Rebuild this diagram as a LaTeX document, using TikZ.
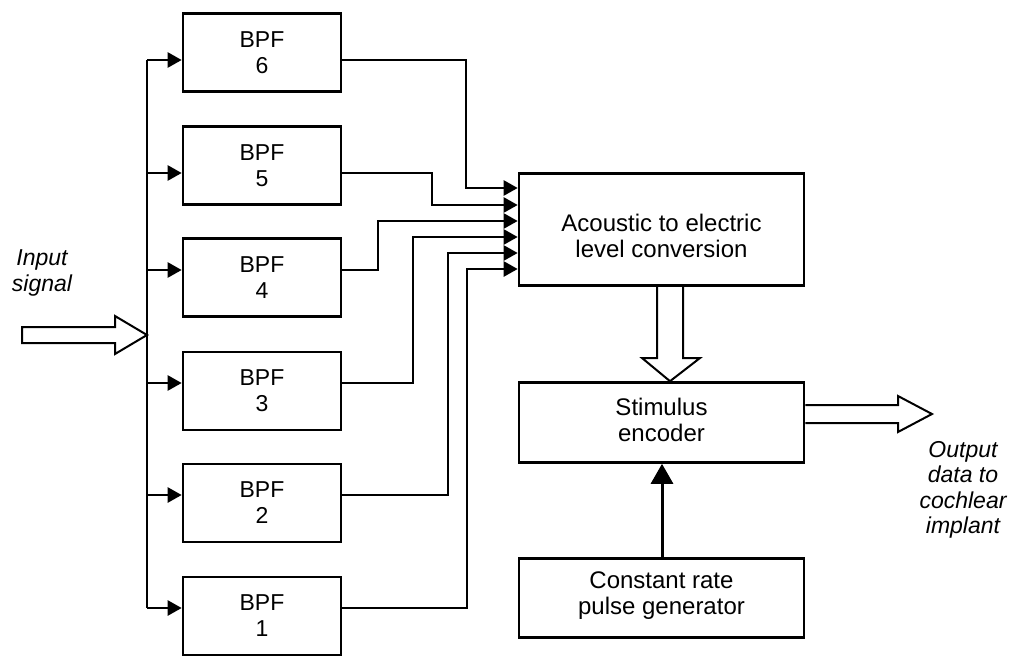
\documentclass[tikz,border=0pt]{standalone}
\usepackage{fontspec}
\setmainfont{Liberation Sans}
\usetikzlibrary{arrows.meta}
\begin{document}
\begin{tikzpicture}[x=1pt,y=-1pt,
  line width=2.4pt, line join=miter,
  box/.style={draw, line width=2.6pt, minimum width=285pt, align=center, inner sep=0pt,
     font=\fontsize{24}{26}\selectfont},
  txt/.style={align=center, inner sep=0pt, font=\fontsize{24}{26}\selectfont},
  bpf/.style={draw, line width=2.6pt, minimum width=158pt, minimum height=78pt, align=center, inner sep=0pt,
     font=\fontsize{23}{26}\selectfont},
  arr/.style={-{Triangle[length=14pt,width=15pt]}},
  big/.style={-{Triangle[length=20pt,width=22pt]}, line width=3pt},
  lbl/.style={align=center, font=\fontsize{23}{25.5}\selectfont\itshape}]
\useasboundingbox (0,0) rectangle (1017,656);
% BPF boxes
\node[bpf] (b6) at (262,52.5) {BPF\\6};
\node[bpf] (b5) at (262,165.5) {BPF\\5};
\node[bpf] (b4) at (262,277.5) {BPF\\4};
\node[bpf] (b3) at (262,391) {BPF\\3};
\node[bpf] (b2) at (262,503) {BPF\\2};
\node[bpf] (b1) at (262,616) {BPF\\1};
% right boxes
\node[box, minimum height=112pt] (ac) at (661.5,229.5) {};
\node[txt] (actext) at ([yshift=-6pt]ac.center) {Acoustic to electric\\level conversion};
\node[box, minimum height=80pt] (se) at (661.5,422.5) {};
\node[txt] (setext) at ([yshift=3pt]se.center) {Stimulus\\encoder};
\node[box, minimum height=79pt] (pg) at (661.5,598) {};
\node[txt] (pgtext) at ([yshift=2pt]pg.center) {Constant rate\\pulse generator};
% bus
\coordinate (s6) at (147,60);
\coordinate (s5) at (147,173);
\coordinate (s4) at (147,270);
\coordinate (s3) at (147,383);
\coordinate (s2) at (147,495);
\coordinate (s1) at (147,608);
\coordinate (inp) at (147,335);
\draw (s6) -- (s1);
\foreach \i in {1,...,6}{\draw[arr] (s\i) -- (s\i -| b\i.west);}
% input block arrow
\draw[line width=2pt] (inp) -- ++(-32,-19) -- ++(0,11) -- ++(-93,0) -- ++(0,16) -- ++(93,0) -- ++(0,11) -- cycle;
\node[lbl] (inlbl) at (42,273) {Input\\signal};
% filter outputs
\draw[arr] (s6 -| b6.east) -| (466,188) -- (ac.west |- 0,188);
\draw[arr] (s5 -| b5.east) -| (432,205) -- (ac.west |- 0,205);
\draw[arr] (s4 -| b4.east) -| (378,221) -- (ac.west |- 0,221);
\draw[arr] (s3 -| b3.east) -| (413,237) -- (ac.west |- 0,237);
\draw[arr] (s2 -| b2.east) -| (448,253) -- (ac.west |- 0,253);
\draw[arr] (s1 -| b1.east) -| (467,269) -- (ac.west |- 0,269);
% block arrow down
\draw[line width=2pt] (ac.south -| 657,0) -- (657,358) -- (642,358) -- (se.north -| 670,0) -- (700,358) -- (683,358) -- (ac.south -| 683,0);
% output block arrow
\coordinate (otip) at (932,414);
\draw[line width=2pt] (se.east |- 0,405) -- (898,405) -- (898,396) -- (otip) -- (898,432) -- (898,423) -- (se.east |- 0,423);
\node[lbl] (outlbl) at (963,490) {Output\\data to\\cochlear\\implant};
% pulse generator to encoder
\draw[big] (pg.north -| 662,0) -- (se.south -| 662,0);
\end{tikzpicture}
\end{document}
